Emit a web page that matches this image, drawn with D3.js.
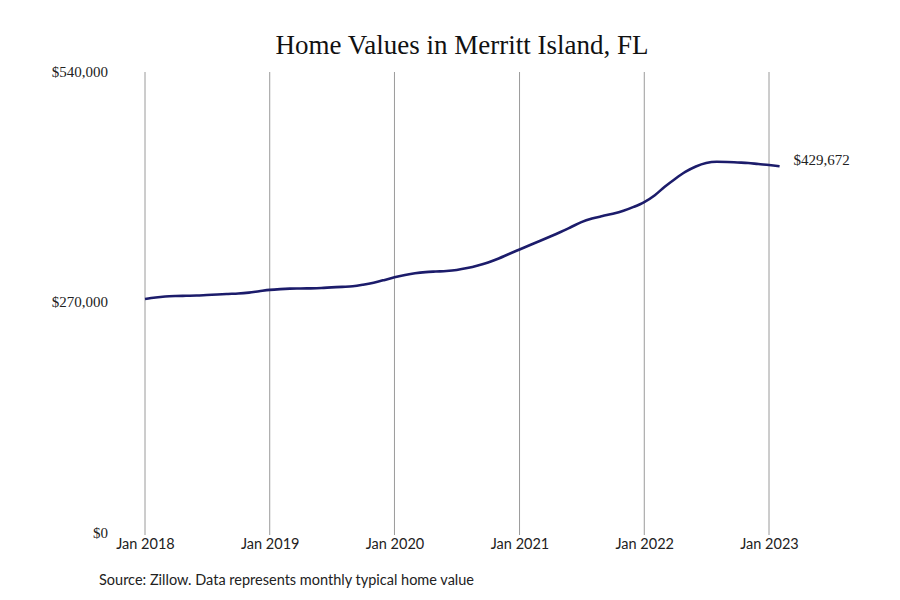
<!DOCTYPE html>
<html>
<head>
<meta charset="utf-8">
<script src="https://cdn.jsdelivr.net/npm/d3@7"></script>
<style>
    body { margin: 0; background: #fff; }
    .title { font-family: "Liberation Serif", "DejaVu Serif", serif; font-size: 27px; fill: #111; }
    .ylab, .endlab { font-family: "Liberation Serif", "DejaVu Serif", serif; font-size: 15px; fill: #222; }
    .x.axis text, .source { font-family: Lato, "Open Sans", sans-serif; font-size: 14.5px; fill: #222; }
    .grid { stroke: #9a9a9a; stroke-width: 1; }
    .line { fill: none; stroke: #1c1c6b; stroke-width: 2.6; }
</style>
</head>
<body>
<div id="chartArea"></div>
<script>
// monthly typical home value, Jan 2018 .. Feb 2023
let months = d3.timeMonths(new Date(2018, 0, 1), new Date(2023, 2, 1));
let values = [
    274100, 275900, 277000, 277600, 277900, 278200, 278800, 279400, 280000, 280500, 281600, 283200,
    284800, 285700, 286200, 286400, 286600, 287000, 287700, 288300, 289000, 290800, 293200, 296200,
    299600, 302200, 304200, 305600, 306300, 306900, 308100, 310300, 313300, 316900, 321500, 326800,
    332100, 337400, 342000, 347300, 352600, 358400, 364100, 368300, 371300, 374000, 377500, 382000,
    387700, 395700, 405300, 414700, 422900, 429300, 433400, 434900, 434600, 434000, 433400, 432200,
    431100, 429672
];
let yTicks = [0, 270000, 540000];
let xTicks = [2018, 2019, 2020, 2021, 2022, 2023];
let titleText = 'Home Values in Merritt Island, FL';
let sourceText = 'Source: Zillow. Data represents monthly typical home value';

let data = months.map((m, i) => ({ DATE: m, VALUE: values[i] }));

let width = 900, height = 600;
let plot = { left: 145, right: 769, top: 72, bottom: 533 };

let svg = d3.select('#chartArea')
    .append('svg')
        .attr('width', width)
        .attr('height', height);

let xScale = d3.scaleTime()
    .domain([new Date(2018, 0, 1), new Date(2023, 0, 1)])
    .range([plot.left, plot.right]);

let yScale = d3.scaleLinear()
    .domain([0, 540000])
    .range([plot.bottom, plot.top]);

svg.append('text')
    .attr('class', 'title')
    .attr('x', 462)
    .attr('y', 54)
    .attr('text-anchor', 'middle')
    .text(titleText);

// vertical gridlines at each January
svg.append('g')
    .selectAll('line')
    .data(xTicks)
    .join('line')
        .attr('class', 'grid')
        .attr('x1', d => xScale(new Date(d, 0, 1)))
        .attr('x2', d => xScale(new Date(d, 0, 1)))
        .attr('y1', plot.top)
        .attr('y2', plot.bottom + 2);

let xAxis = svg.append('g')
    .attr('class', 'x axis')
    .attr('transform', 'translate(0,' + plot.bottom + ')')
    .call(d3.axisBottom(xScale)
        .tickValues(xTicks.map(y => new Date(y, 0, 1)))
        .tickFormat(d3.timeFormat('Jan %Y'))
        .tickSize(0)
        .tickPadding(6));
xAxis.select('.domain').remove();

svg.append('g')
    .selectAll('text')
    .data(yTicks)
    .join('text')
        .attr('class', 'ylab')
        .attr('x', 108)
        .attr('y', d => yScale(d))
        .attr('dy', '0.32em')
        .attr('text-anchor', 'end')
        .text(d => '$' + d3.format(',')(d));

let line = d3.line()
    .x(d => xScale(d.DATE))
    .y(d => yScale(d.VALUE))
    .curve(d3.curveMonotoneX);

svg.append('path')
    .attr('class', 'line')
    .attr('d', line(data));

let last = data[data.length - 1];
svg.append('text')
    .attr('class', 'endlab')
    .attr('x', xScale(last.DATE) + 14)
    .attr('y', yScale(last.VALUE) - 6)
    .attr('dy', '0.32em')
    .text('$' + d3.format(',')(last.VALUE));

svg.append('text')
    .attr('class', 'source')
    .attr('x', 99)
    .attr('y', 585)
    .text(sourceText);
</script>
</body>
</html>
